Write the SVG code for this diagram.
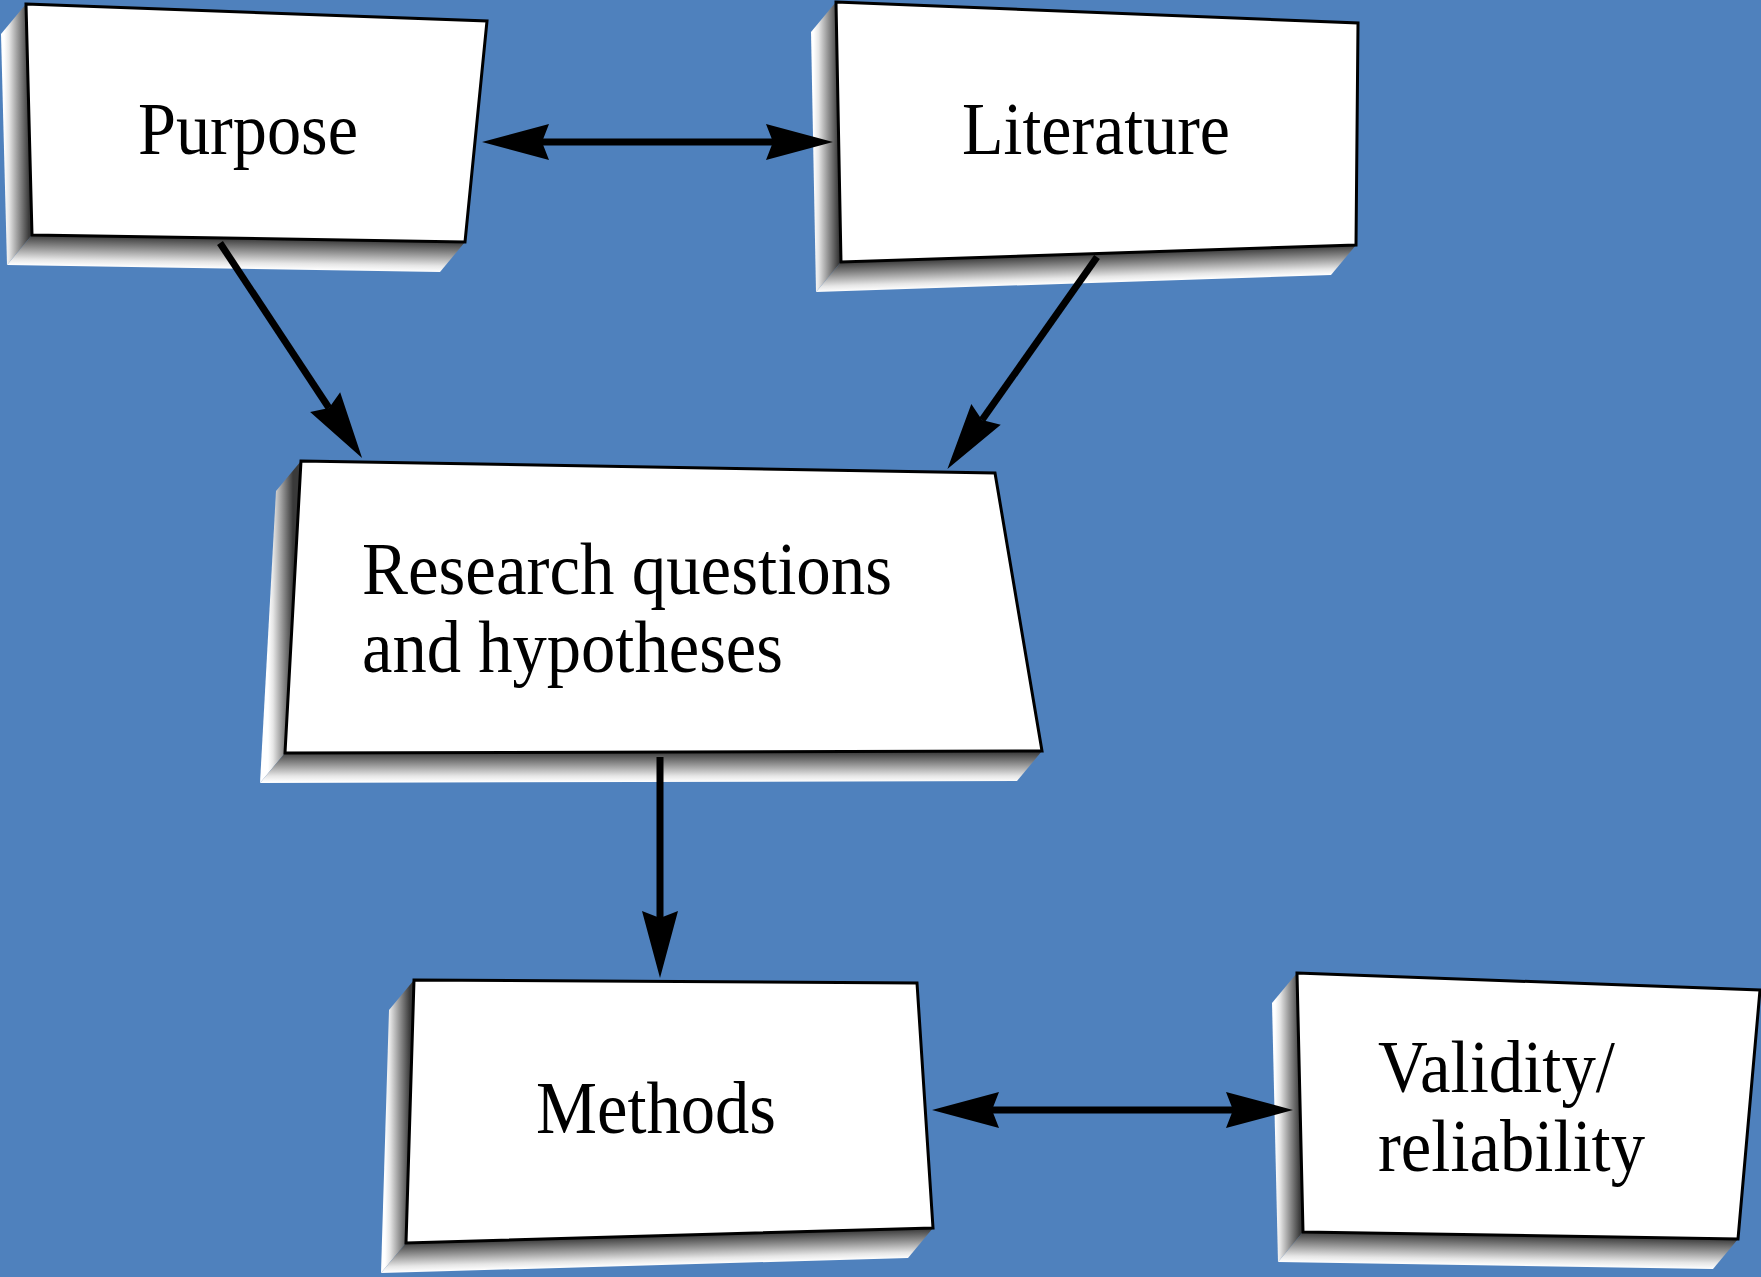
<svg xmlns="http://www.w3.org/2000/svg" xmlns:xlink="http://www.w3.org/1999/xlink" width="1761" height="1277" viewBox="0 0 1761 1277">
  <style>
    .box { fill: #ffffff; stroke: #000000; stroke-width: 3; stroke-linejoin: miter; }
    .lbl { font-family: "Liberation Serif", "Times New Roman", serif; font-size: 74px; fill: #000000; }
    .conn { stroke: #000000; stroke-width: 7; fill: none; }
  </style>
  <defs>
    <linearGradient id="g" gradientUnits="userSpaceOnUse">
      <stop offset="0" stop-color="#3a3a3a"/>
      <stop offset="0.45" stop-color="#9a9a9a"/>
      <stop offset="0.8" stop-color="#e6e6e6"/>
      <stop offset="1" stop-color="#ffffff"/>
    </linearGradient>
    <linearGradient id="pL" href="#g" xlink:href="#g" gradientUnits="userSpaceOnUse" x1="29" y1="120" x2="4" y2="120"/>
    <linearGradient id="pB" href="#g" xlink:href="#g" gradientUnits="userSpaceOnUse" x1="248.5" y1="238.5" x2="248" y2="268.9"/>
    <linearGradient id="lL" href="#g" xlink:href="#g" gradientUnits="userSpaceOnUse" x1="838.5" y1="130" x2="813.5" y2="130"/>
    <linearGradient id="lB" href="#g" xlink:href="#g" gradientUnits="userSpaceOnUse" x1="1098.5" y1="253.5" x2="1099.5" y2="282.7"/>
    <linearGradient id="rL" href="#g" xlink:href="#g" gradientUnits="userSpaceOnUse" x1="293" y1="600" x2="268" y2="600"/>
    <linearGradient id="rB" href="#g" xlink:href="#g" gradientUnits="userSpaceOnUse" x1="660" y1="752" x2="660" y2="782"/>
    <linearGradient id="mL" href="#g" xlink:href="#g" gradientUnits="userSpaceOnUse" x1="410" y1="1110" x2="385" y2="1110"/>
    <linearGradient id="mB" href="#g" xlink:href="#g" gradientUnits="userSpaceOnUse" x1="669.5" y1="1235.5" x2="670.3" y2="1264.8"/>
    <linearGradient id="vL" href="#g" xlink:href="#g" gradientUnits="userSpaceOnUse" x1="1300" y1="1100" x2="1275" y2="1100"/>
    <linearGradient id="vB" href="#g" xlink:href="#g" gradientUnits="userSpaceOnUse" x1="1520.5" y1="1235.5" x2="1520" y2="1265.9"/>
    <marker id="ah" markerUnits="userSpaceOnUse" viewBox="-8 -19 70 38" refX="0" refY="0" markerWidth="70" markerHeight="38" orient="auto-start-reverse">
      <path d="M60,0 L-7,-18 L0,0 L-7,18 Z" fill="#000000"/>
    </marker>
  </defs>

  <rect x="0" y="0" width="1761" height="1277" fill="#4F81BD"/>

  <g id="node-purpose">
    <polygon points="26,4 32,235 7,265 1,34" fill="url(#pL)"/>
    <polygon points="32,235 465,242 440,272 7,265" fill="url(#pB)"/>
    <polygon class="box" points="26,4 487,21 465,242 32,235"/>
    <text class="lbl" x="138" y="154" textLength="220" lengthAdjust="spacingAndGlyphs">Purpose</text>
  </g>

  <g id="node-literature">
    <polygon points="836,2 841,262 816,292 811,32" fill="url(#lL)"/>
    <polygon points="841,262 1356,245 1331,275 816,292" fill="url(#lB)"/>
    <polygon class="box" points="836,2 1358,23 1356,245 841,262"/>
    <text class="lbl" x="962" y="154" textLength="268" lengthAdjust="spacingAndGlyphs">Literature</text>
  </g>

  <g id="node-research">
    <polygon points="301,461 285,753 260,783 276,491" fill="url(#rL)"/>
    <polygon points="285,753 1042,751 1017,781 260,783" fill="url(#rB)"/>
    <polygon class="box" points="301,461 995,473 1042,751 285,753"/>
    <text class="lbl" x="362" y="594" textLength="530" lengthAdjust="spacingAndGlyphs">Research questions</text>
    <text class="lbl" x="362" y="672" textLength="421" lengthAdjust="spacingAndGlyphs">and hypotheses</text>
  </g>

  <g id="node-methods">
    <polygon points="414,980 406,1243 381,1273 389,1010" fill="url(#mL)"/>
    <polygon points="406,1243 933,1228 908,1258 381,1273" fill="url(#mB)"/>
    <polygon class="box" points="414,980 917,983 933,1228 406,1243"/>
    <text class="lbl" x="536" y="1133" textLength="240" lengthAdjust="spacingAndGlyphs">Methods</text>
  </g>

  <g id="node-validity">
    <polygon points="1297,973 1303,1232 1278,1262 1272,1003" fill="url(#vL)"/>
    <polygon points="1303,1232 1738,1239 1713,1269 1278,1262" fill="url(#vB)"/>
    <polygon class="box" points="1297,973 1760,990 1738,1239 1303,1232"/>
    <text class="lbl" x="1378" y="1092" textLength="237" lengthAdjust="spacingAndGlyphs">Validity/</text>
    <text class="lbl" x="1378" y="1171" textLength="267" lengthAdjust="spacingAndGlyphs">reliability</text>
  </g>

  <g id="connectors">
    <path class="conn" d="M542,142 L773,142" marker-start="url(#ah)" marker-end="url(#ah)"/>
    <path class="conn" d="M992,1110 L1233,1110" marker-start="url(#ah)" marker-end="url(#ah)"/>
    <path class="conn" d="M220,243 L329,408" marker-end="url(#ah)"/>
    <path class="conn" d="M1097,257 L982,420" marker-end="url(#ah)"/>
    <path class="conn" d="M660,757 L660,918" marker-end="url(#ah)"/>
  </g>
</svg>
